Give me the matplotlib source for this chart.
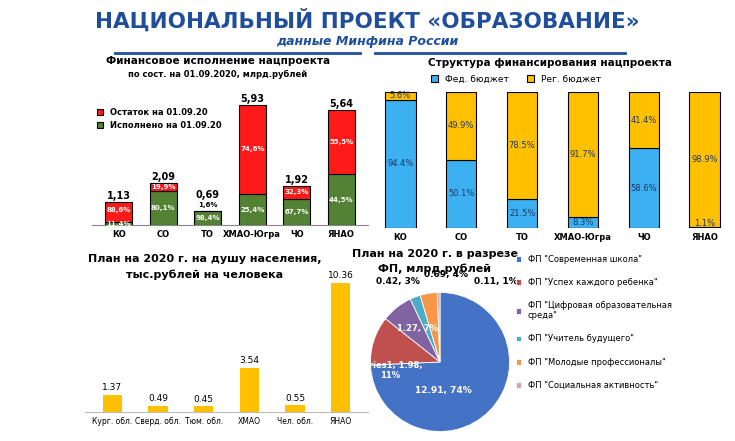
import matplotlib
matplotlib.use("Agg")
import matplotlib.pyplot as plt
import numpy as np

regions1 = ["КО", "СО", "ТО", "ХМАО-Югра", "ЧО", "ЯНАО"]
totals1 = [1.13, 2.09, 0.69, 5.93, 1.92, 5.64]
done_pct = [11.4, 80.1, 98.4, 25.4, 67.7, 44.5]
rest_pct = [88.6, 19.9, 1.6, 74.6, 32.3, 55.5]

fed_pct = [94.4, 50.1, 21.5, 8.3, 58.6, 1.1]
reg_pct = [5.6, 49.9, 78.5, 91.7, 41.4, 98.9]

regions3 = ["Кург. обл.", "Сверд. обл.", "Тюм. обл.", "ХМАО", "Чел. обл.", "ЯНАО"]
percap = [1.37, 0.49, 0.45, 3.54, 0.55, 10.36]

fp_names = ['ФП "Современная школа"', 'ФП "Успех каждого ребенка"',
            'ФП "Цифровая образовательная\nсреда"', 'ФП "Учитель будущего"',
            'ФП "Молодые профессионалы"', 'ФП "Социальная активность"']
fp_vals = [12.91, 1.98, 1.27, 0.42, 0.69, 0.11]
fp_pct = [74, 11, 7, 3, 4, 1]

W, H = 735, 441
fig = plt.figure(figsize=(W/100, H/100), dpi=100)
fig.patch.set_facecolor("white")
def ax_px(x0, y0, x1, y1):
    return fig.add_axes([x0/W, 1-y1/H, (x1-x0)/W, (y1-y0)/H])

fig.text(0.5, 1-20/H, "НАЦИОНАЛЬНЫЙ ПРОЕКТ «ОБРАЗОВАНИЕ»", ha="center", va="center",
         fontsize=15.5, fontweight="bold", color="#1f4e9c")
fig.text(0.5, 1-42/H, "данные Минфина России", ha="center", va="center",
         fontsize=9, fontweight="bold", style="italic", color="#1f4e9c")
fig.add_artist(plt.Line2D([115/W, 360/W], [1-53/H]*2, color="#1f4e9c", lw=2))
fig.add_artist(plt.Line2D([375/W, 625/W], [1-53/H]*2, color="#1f4e9c", lw=2))

# Panel 1
fig.text(218/W, 1-64/H, "Финансовое исполнение нацпроекта", ha="center", fontsize=7.5, fontweight="bold")
fig.text(218/W, 1-77/H, "по сост. на 01.09.2020, млрд.рублей", ha="center", fontsize=6, fontweight="bold")
a1 = ax_px(92, 95, 368, 225)
x = np.arange(len(regions1))
done = [t*p/100 for t, p in zip(totals1, done_pct)]
rest = [t*p/100 for t, p in zip(totals1, rest_pct)]
a1.bar(x, done, 0.6, color="#548235", edgecolor="black", lw=0.8, label="Исполнено на 01.09.20")
a1.bar(x, rest, 0.6, bottom=done, color="#ff1a1a", edgecolor="black", lw=0.8, label="Остаток на 01.09.20")
for i in range(len(x)):
    top = totals1[i] + (0.55 if rest_pct[i] < 5 else 0.05)
    a1.text(x[i], top, f"{totals1[i]:.2f}".replace(".", ","), ha="center", va="bottom", fontsize=7, fontweight="bold")
    a1.text(x[i], done[i]/2 if done_pct[i] > 15 else 0.07, f"{done_pct[i]:.1f}%".replace(".", ","),
            ha="center", va="center", fontsize=5, color="white", fontweight="bold")
    if rest_pct[i] > 5:
        ry = done[i]+rest[i]/2 if done_pct[i] > 15 else done[i]+rest[i]*0.6
        a1.text(x[i], ry, f"{rest_pct[i]:.1f}%".replace(".", ","),
                ha="center", va="center", fontsize=5, color="white", fontweight="bold")
    else:
        a1.text(x[i], totals1[i]+0.28, f"{rest_pct[i]:.1f}%".replace(".", ","),
                ha="center", va="center", fontsize=5, fontweight="bold")
a1.set_xticks(x, regions1, fontsize=6, fontweight="bold")
a1.set_ylim(0, 6.4); a1.set_yticks([]); a1.set_xlim(-0.6, 5.6)
for s in ["top", "right", "left"]: a1.spines[s].set_visible(False)
a1.spines["bottom"].set_color("#888")
a1.tick_params(axis="x", length=0)
h, l = a1.get_legend_handles_labels()
a1.legend(h[::-1], l[::-1], loc="upper left", bbox_to_anchor=(-0.01, 0.96), frameon=False,
          handlelength=0.8, handleheight=0.8, prop={"weight": "bold", "size": 6})

# Panel 2
fig.text(550/W, 1-66/H, "Структура финансирования нацпроекта", ha="center", fontsize=7.5, fontweight="bold")
a2 = ax_px(370, 92, 735, 228)
a2.bar(x, fed_pct, 0.5, color="#3cb0f0", edgecolor="black", lw=0.8, label="Фед. бюджет")
a2.bar(x, reg_pct, 0.5, bottom=fed_pct, color="#ffc000", edgecolor="black", lw=0.8, label="Рег. бюджет")
for i in range(len(x)):
    a2.text(x[i], max(fed_pct[i]/2, 3), f"{fed_pct[i]:.1f}%", ha="center", va="center", fontsize=6, color="#1f3864")
    a2.text(x[i], fed_pct[i]+max(reg_pct[i]/2, 3), f"{reg_pct[i]:.1f}%", ha="center", va="center", fontsize=6, color="#1f3864")
a2.set_xticks(x, regions1, fontsize=6, fontweight="bold")
a2.set_ylim(0, 100); a2.set_yticks([]); a2.set_xlim(-0.5, 5.5)
for s in ["top", "right", "left", "bottom"]: a2.spines[s].set_visible(False)
a2.tick_params(axis="x", length=0)
a2.legend(loc="lower center", bbox_to_anchor=(0.4, 1.0), ncol=2, frameon=False, fontsize=6.5,
          handlelength=0.8, handleheight=0.8)

# Panel 3
fig.text(205/W, 1-262/H, "План на 2020 г. на душу населения,", ha="center", fontsize=8, fontweight="bold")
fig.text(205/W, 1-278/H, "тыс.рублей на человека", ha="center", fontsize=8, fontweight="bold")
a3 = ax_px(85, 272, 368, 412)
a3.bar(x, percap, 0.42, color="#ffc000")
for i in range(len(x)):
    a3.text(x[i], percap[i]+0.2, f"{percap[i]:.2f}", ha="center", va="bottom", fontsize=6.5)
a3.set_xticks(x, regions3, fontsize=5.5)
a3.set_ylim(0, 11.2); a3.set_yticks([]); a3.set_xlim(-0.6, 5.6)
for s in ["top", "right", "left"]: a3.spines[s].set_visible(False)
a3.spines["bottom"].set_color("#bbb")
a3.tick_params(axis="x", length=0)

# Panel 4
fig.text(435/W, 1-257/H, "План на 2020 г. в разрезе", ha="center", fontsize=8, fontweight="bold")
fig.text(435/W, 1-272/H, "ФП, млрд.рублей", ha="center", fontsize=8, fontweight="bold")
a4 = ax_px(360, 275, 520, 435)
cols = ["#4472c4", "#c0504d", "#8064a2", "#4bacc6", "#f79646", "#d9a3a6"]
wedges, _ = a4.pie(fp_vals, colors=cols, startangle=90, counterclock=False,
                   wedgeprops={"edgecolor": "white", "lw": 0.6})
lbl = [f"{v}, {p}%" for v, p in zip(fp_vals, fp_pct)]
a4.text(0.05, -0.45, lbl[0], ha="center", fontsize=6.5, color="white", fontweight="bold")
a4.text(-0.72, -0.12, "Series1, 1.98,\n11%", ha="center", va="center", fontsize=6, color="white", fontweight="bold")
a4.text(-0.33, 0.45, lbl[2], ha="center", fontsize=6, color="white", fontweight="bold")
a4.text(-0.6, 1.12, lbl[3], ha="center", fontsize=6.5, fontweight="bold")
a4.text(0.08, 1.22, lbl[4], ha="center", fontsize=6.5, fontweight="bold")
a4.text(0.8, 1.12, lbl[5], ha="center", fontsize=6.5, fontweight="bold")
a4.set_xlim(-1.05, 1.05); a4.set_ylim(-1.05, 1.25)
a4.set_aspect("equal")
fig.legend(wedges, fp_names, loc="upper left", bbox_to_anchor=(508/W, 1-247/H), frameon=False,
           fontsize=6, handlelength=0.7, handleheight=0.7, labelspacing=1.7)

fig.savefig("out.png", dpi=100)
